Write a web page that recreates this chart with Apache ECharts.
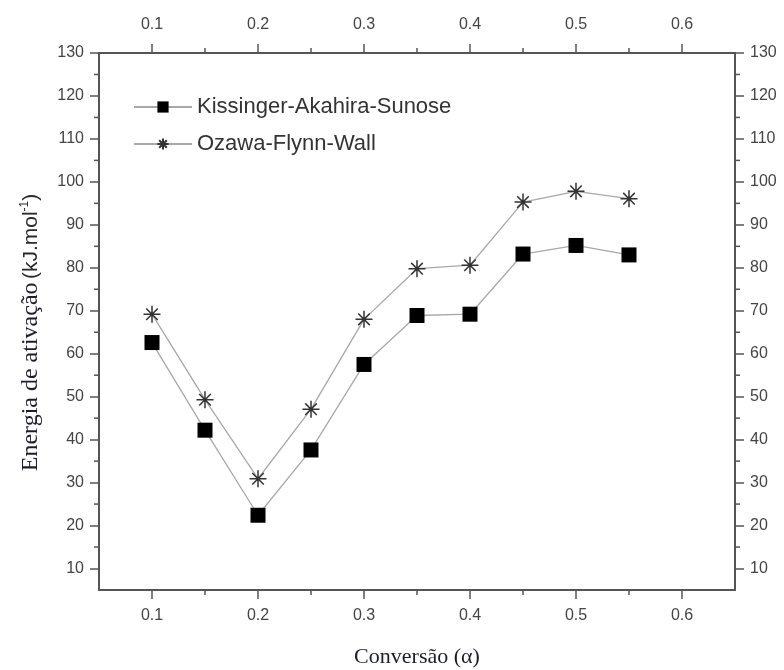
<!DOCTYPE html>
<html>
<head>
<meta charset="utf-8">
<script src="https://cdn.jsdelivr.net/npm/echarts@6/dist/echarts.min.js"></script>
<style>
  html, body { margin: 0; padding: 0; background: #fff; }
  #chart { width: 784px; height: 670px; }
</style>
</head>
<body>
<div id="chart"></div>
<script>
// Conversion levels (alpha)
const conversion = [0.10, 0.15, 0.20, 0.25, 0.30, 0.35, 0.40, 0.45, 0.50, 0.55];
// Activation energy, kJ/mol
const kissinger = [62.6, 42.2, 22.4, 37.6, 57.5, 68.9, 69.2, 83.2, 85.2, 83.0];
const ozawa     = [69.2, 49.3, 30.9, 47.1, 68.0, 79.8, 80.6, 95.3, 97.8, 96.1];

const seriesNames = ['Kissinger-Akahira-Sunose', 'Ozawa-Flynn-Wall'];

// Axis ranges and tick positions
const xRange = [0.05, 0.65];
const yRange = [5, 130];
const xMajor = [0.1, 0.2, 0.3, 0.4, 0.5, 0.6];
const xMinor = [0.15, 0.25, 0.35, 0.45, 0.55];
const yMajor = [10, 20, 30, 40, 50, 60, 70, 80, 90, 100, 110, 120, 130];
const yMinor = [15, 25, 35, 45, 55, 65, 75, 85, 95, 105, 115, 125];

const axisColor = '#555';
const labelColor = '#444';
const labelFont = 'Liberation Sans, Arial, sans-serif';
const serifFont = 'Liberation Serif, Times New Roman, serif';

const starPath = 'path://M5,0L5,10M0,5L10,5M1.6,1.6L8.4,8.4M1.6,8.4L8.4,1.6';

function xAxisOf(position, margin) {
  return {
    type: 'value', position: position,
    min: xRange[0], max: xRange[1],
    axisLine: { show: true, onZero: false, lineStyle: { color: axisColor, width: 2 } },
    axisTick: { show: true, inside: false, length: 9, customValues: xMajor,
                lineStyle: { color: axisColor, width: 1.5 } },
    axisLabel: { show: true, margin: margin, customValues: xMajor, color: labelColor,
                 fontFamily: labelFont, fontSize: 16,
                 formatter: v => (Math.round(v * 10) / 10).toFixed(1) },
    splitLine: { show: false }
  };
}
function yAxisOf(position) {
  return {
    type: 'value', position: position,
    min: yRange[0], max: yRange[1],
    axisLine: { show: true, onZero: false, lineStyle: { color: axisColor, width: 2 } },
    axisTick: { show: true, inside: false, length: 9, customValues: yMajor,
                lineStyle: { color: axisColor, width: 1.5 } },
    axisLabel: { show: true, margin: 15, customValues: yMajor, color: labelColor,
                 fontFamily: labelFont, fontSize: 16 },
    splitLine: { show: false }
  };
}

const xBottom = xAxisOf('bottom', 18);
xBottom.name = 'Conversão (α)';
xBottom.nameLocation = 'middle';
xBottom.nameGap = 56;
xBottom.nameTextStyle = { fontFamily: serifFont, fontSize: 22, color: '#1c1c2e' };
const xTop = xAxisOf('top', 20);

const yLeft = yAxisOf('left');
yLeft.name = '{a|Energia de ativação} {b|(kJ.mol}{s|-1}{b|)}';
yLeft.nameLocation = 'middle';
yLeft.nameGap = 56;
yLeft.nameTextStyle = {
  padding: [0, 22, 0, 0],
  rich: {
    a: { fontFamily: serifFont, fontSize: 24, color: '#1c1c2e' },
    b: { fontFamily: labelFont, fontSize: 21, color: '#2a2a2a' },
    s: { fontFamily: labelFont, fontSize: 12, color: '#2a2a2a', verticalAlign: 'top', padding: [0, 0, 9, 0] }
  }
};
const yRight = yAxisOf('right');

// Short ticks drawn from the axis scales on all four frame edges
// (second value: 0 = horizontal axes, 1 = vertical axes)
const minorTickSeries = {
  type: 'custom',
  silent: true,
  clip: false,
  xAxisIndex: 0, yAxisIndex: 0,
  data: xMinor.map(v => [v, 0]).concat(yMinor.map(v => [v, 1])),
  renderItem: function (params, api) {
    const cs = params.coordSys;
    const v = api.value(0);
    const which = api.value(1);
    const len = 5;
    const style = { stroke: axisColor, lineWidth: 1.5 };
    if (which === 0) {
      const px = api.coord([v, yRange[0]])[0];
      return { type: 'group', children: [
        { type: 'line', shape: { x1: px, y1: cs.y + cs.height, x2: px, y2: cs.y + cs.height + len }, style: style },
        { type: 'line', shape: { x1: px, y1: cs.y, x2: px, y2: cs.y - len }, style: style }
      ] };
    }
    const py = api.coord([xRange[0], v])[1];
    return { type: 'group', children: [
      { type: 'line', shape: { x1: cs.x, y1: py, x2: cs.x - len, y2: py }, style: style },
      { type: 'line', shape: { x1: cs.x + cs.width, y1: py, x2: cs.x + cs.width + len, y2: py }, style: style }
    ] };
  }
};

const chart = echarts.init(document.getElementById('chart'), null, { renderer: 'canvas' });
chart.setOption({
  animation: false,
  backgroundColor: '#fff',
  grid: { left: 99, right: 49, top: 53, bottom: 80, containLabel: false, outerBoundsMode: 'none' },
  xAxis: [xBottom, xTop],
  yAxis: [yLeft, yRight],
  legend: {
    data: seriesNames,
    orient: 'vertical',
    left: 128, top: 91,
    itemWidth: 58, itemHeight: 14, itemGap: 15,
    textStyle: { fontFamily: labelFont, fontSize: 22, color: '#333' }
  },
  series: [
    {
      name: seriesNames[0], type: 'line',
      data: conversion.map((c, i) => [c, kissinger[i]]),
      symbol: 'rect', symbolSize: 15,
      itemStyle: { color: '#000' },
      lineStyle: { color: '#a8a8a8', width: 1.3 },
      z: 3
    },
    {
      name: seriesNames[1], type: 'line',
      data: conversion.map((c, i) => [c, ozawa[i]]),
      symbol: starPath, symbolSize: 17,
      itemStyle: { color: '#333', borderColor: '#333', borderWidth: 1.5 },
      lineStyle: { color: '#a8a8a8', width: 1.3 },
      z: 3
    },
    minorTickSeries
  ]
});
</script>
</body>
</html>
